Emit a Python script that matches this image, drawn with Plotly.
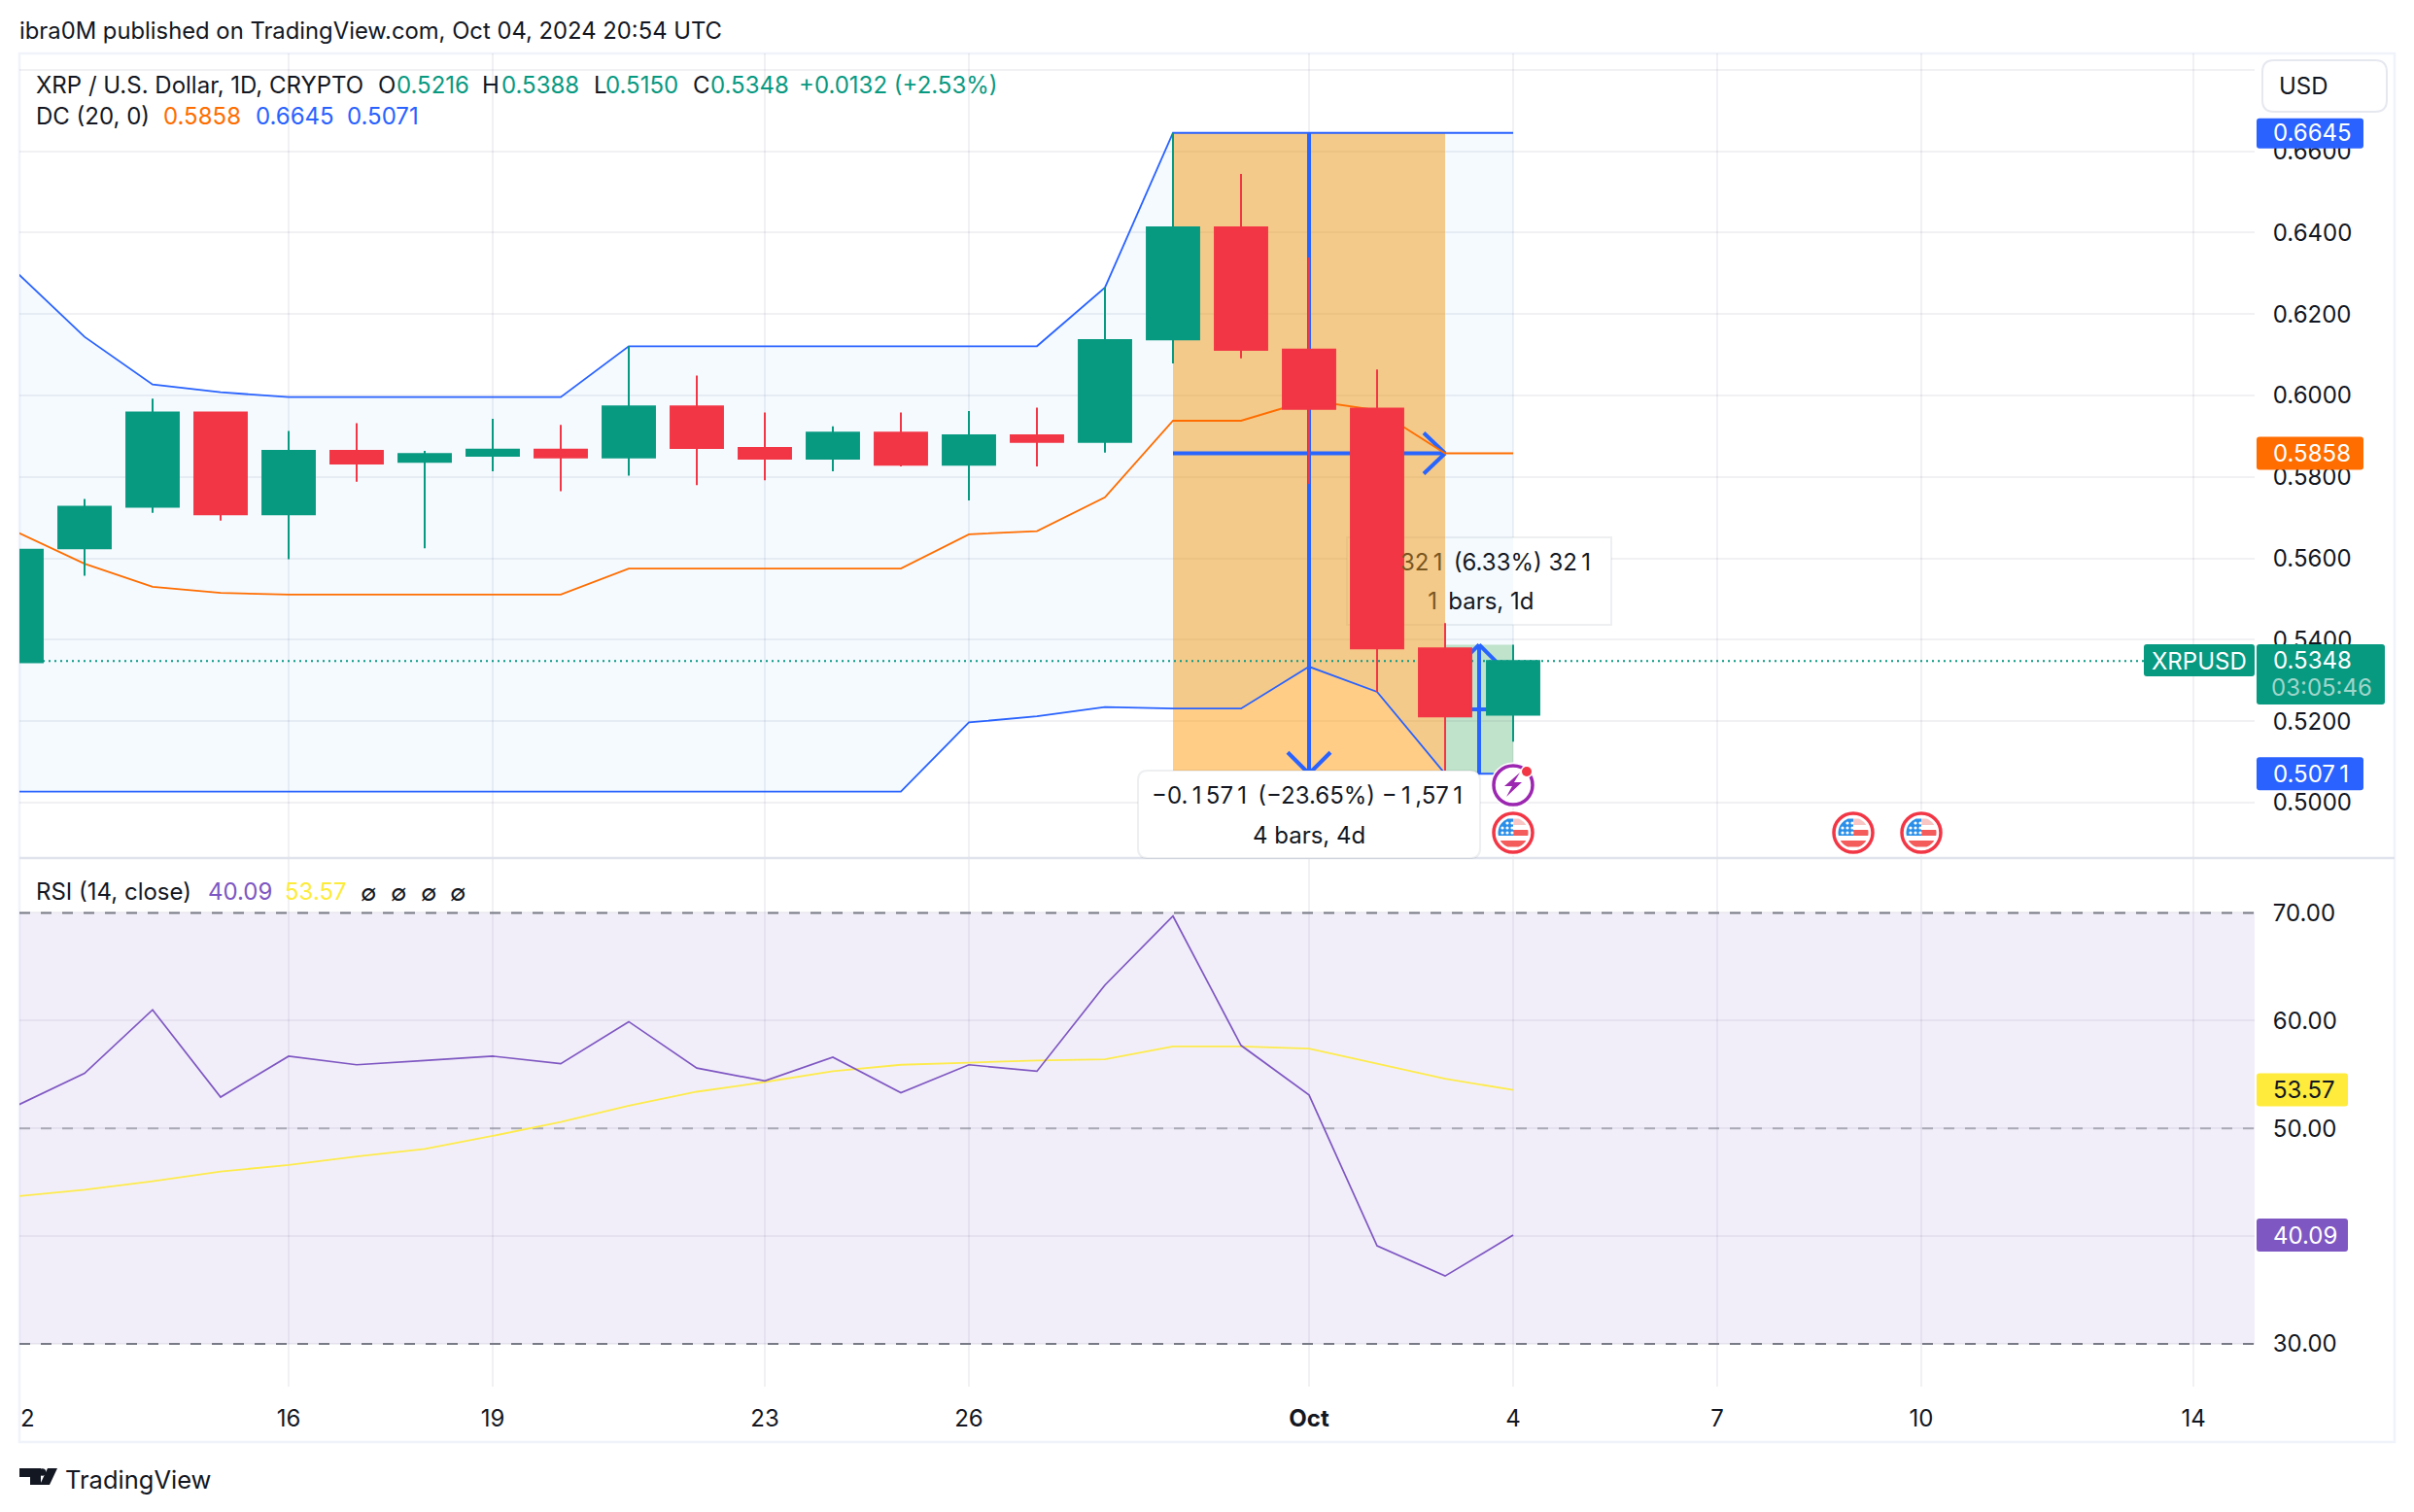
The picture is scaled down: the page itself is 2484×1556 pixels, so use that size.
import numpy as np
import pandas as pd
import plotly.graph_objects as go

# ---------- data ----------
dates = ["2024-09-12","2024-09-13","2024-09-14","2024-09-15","2024-09-16","2024-09-17","2024-09-18","2024-09-19",
         "2024-09-20","2024-09-21","2024-09-22","2024-09-23","2024-09-24","2024-09-25","2024-09-26","2024-09-27",
         "2024-09-28","2024-09-29","2024-09-30","2024-10-01","2024-10-02","2024-10-03","2024-10-04"]
opens  = [.5345,.5625,.5727,.5958,.5708,.5864,.5837,.5852,.5867,.5848,.5973,.5871,.5845,.5909,.5830,.5902,.5886,.6138,.6413,.6113,.5968,.5379,.5216]
highs  = [.5640,.5746,.5992,.5958,.5913,.5932,.5864,.5943,.5928,.6121,.6049,.5958,.5924,.5958,.5962,.5970,.6265,.6645,.6544,.6339,.6064,.5441,.5388]
lows   = [.5330,.5557,.5712,.5693,.5598,.5788,.5625,.5814,.5765,.5803,.5780,.5792,.5814,.5826,.5742,.5826,.5860,.6079,.6091,.5783,.5272,.5071,.5150]
closes = [.5621,.5727,.5958,.5708,.5864,.5833,.5856,.5867,.5848,.5973,.5871,.5845,.5909,.5830,.5902,.5886,.6136,.6413,.6112,.5967,.5379,.5212,.5348]
dc_upper = [.6303,.6144,.6027,.6008,.5996,.5996,.5996,.5996,.5996,.6121,.6121,.6121,.6121,.6121,.6121,.6121,.6265,.6645,.6645,.6645,.6645,.6645,.6645]
dc_lower = [.5027,.5027,.5027,.5027,.5027,.5027,.5027,.5027,.5027,.5027,.5027,.5027,.5027,.5027,.5197,.5212,.5235,.5231,.5231,.5334,.5272,.5071,.5071]
dc_basis = [.5665,.5587,.5530,.5515,.5511,.5511,.5511,.5511,.5511,.5575,.5575,.5575,.5575,.5575,.5659,.5667,.5750,.5938,.5938,.5988,.5964,.5858,.5858]
rsi    = [52.1,55.1,61.0,52.9,56.7,55.9,56.3,56.7,56.0,59.9,55.6,54.4,56.6,53.3,55.9,55.3,63.3,69.7,57.7,53.1,39.1,36.3,40.09]
rsi_ma = [43.7,44.3,45.1,46.0,46.6,47.4,48.1,49.3,50.6,52.1,53.4,54.3,55.3,55.9,56.1,56.3,56.4,57.6,57.6,57.4,56.0,54.6,53.57]
price_ticks = [.50,.52,.54,.56,.58,.60,.62,.64,.66,.68]
price_labels = ["0.5000","0.5200","0.5400","0.5600","0.5800","0.6000","0.6200","0.6400","0.6600",""]
rsi_ticks = [30,40,50,60,70]
rsi_labels = ["30.00","40.00","50.00","60.00","70.00"]
time_ticks = ["2024-09-16","2024-09-19","2024-09-23","2024-09-26","2024-10-01","2024-10-04","2024-10-07","2024-10-10","2024-10-14"]
time_labels = ["16","19","23","26","<b>Oct</b>","4","7","10","14"]
last_close, dc_up_last, dc_mid_last, dc_low_last = .5348, .6645, .5858, .5071
rsi_last, ma_last = 40.09, 53.57
measure_high, measure_low = .5388, .5071

# ---------- style ----------
W, H = 2484, 1556
INK = "#131722"; GREEN = "#089981"; RED = "#f23645"; BLUE = "#2962ff"; ORANGE = "#ff6d00"
PURPLE = "#7e57c2"; YELLOW = "#ffeb3b"; GRID = "rgba(42,46,87,0.065)"; FRAME = "#f0f3fa"
FONT = "Inter"; FS = 24
X = lambda p: p / W
Y = lambda p: 1 - p / H
L_PX, R_PX = 20, 2320
T_PX, SEP_PX, B_PX = 55, 883, 1427
OCT1, DAY = 1347, 70
def d(px):
    return (pd.Timestamp("2024-10-01") + pd.Timedelta(days=(px - OCT1) / DAY)).strftime("%Y-%m-%d %H:%M:%S")
xr = [d(L_PX), d(R_PX)]
pr = [.5 - (SEP_PX - 826) / 4190, .5 + (826 - T_PX) / 4190]
rr = [30 - (B_PX - 1383) / 11.09, 30 + (1383 - SEP_PX) / 11.09]

fig = go.Figure()
# Donchian
fig.add_trace(go.Scatter(x=dates, y=dc_upper, mode="lines", line=dict(color=BLUE, width=1.8), xaxis="x", yaxis="y", hoverinfo="skip"))
fig.add_trace(go.Scatter(x=dates, y=dc_lower, mode="lines", line=dict(color=BLUE, width=1.8), fill="tonexty",
                         fillcolor="rgba(33,150,243,0.05)", xaxis="x", yaxis="y", hoverinfo="skip"))
fig.add_trace(go.Scatter(x=dates, y=dc_basis, mode="lines", line=dict(color=ORANGE, width=1.8), xaxis="x", yaxis="y", hoverinfo="skip"))
# RSI
fig.add_trace(go.Scatter(x=dates, y=rsi_ma, mode="lines", line=dict(color="#fdeb4c", width=1.8), xaxis="x2", yaxis="y2", hoverinfo="skip"))
fig.add_trace(go.Scatter(x=dates, y=rsi, mode="lines", line=dict(color=PURPLE, width=1.7), xaxis="x2", yaxis="y2", hoverinfo="skip"))
# Candles on an overlay so they sit above the lines
fig.add_trace(go.Candlestick(x=dates, open=opens, high=highs, low=lows, close=closes, xaxis="x3", yaxis="y3",
                             whiskerwidth=0,
                             increasing=dict(line=dict(color=GREEN, width=2), fillcolor=GREEN),
                             decreasing=dict(line=dict(color=RED, width=2), fillcolor=RED)))

shapes = []
def S(**k):
    shapes.append(k)

# ----- between-layer: white label, tinted zones, arrows, price line -----
def rrect(x0, y0, x1, y1, r=8):
    return (f"M{X(x0+r)},{Y(y0)} L{X(x1-r)},{Y(y0)} Q{X(x1)},{Y(y0)} {X(x1)},{Y(y0+r)} L{X(x1)},{Y(y1-r)} "
            f"Q{X(x1)},{Y(y1)} {X(x1-r)},{Y(y1)} L{X(x0+r)},{Y(y1)} Q{X(x0)},{Y(y1)} {X(x0)},{Y(y1-r)} "
            f"L{X(x0)},{Y(y0+r)} Q{X(x0)},{Y(y0)} {X(x0+r)},{Y(y0)} Z")

S(type="rect", xref="x", yref="y", x0=d(1386), x1=d(1658), y0=.5 + (826 - 643) / 4190, y1=.5 + (826 - 553) / 4190,
  fillcolor="white", line=dict(color="rgba(20,30,60,0.07)", width=2), layer="between")
S(type="rect", xref="x", yref="y", x0="2024-09-29", x1="2024-10-03", y0=dc_low_last, y1=dc_up_last,
  fillcolor="rgba(255,150,0,0.48)", line=dict(width=0), layer="between")
S(type="rect", xref="x", yref="y", x0="2024-10-03", x1="2024-10-04", y0=measure_low, y1=measure_high,
  fillcolor="rgba(76,175,80,0.3)", line=dict(width=0), layer="between")
S(type="line", xref="x", yref="y", x0=xr[0], x1=d(2206), y0=last_close, y1=last_close,
  line=dict(color=GREEN, width=2, dash="2px,4px"), layer="between")

arrow = dict(color=BLUE, width=4)
def segment(x0, x1, y0, y1):
    S(type="line", xref="x", yref="y", x0=x0, x1=x1, y0=y0, y1=y1, line=arrow, layer="between")
def chevron(xa, ya, dx0, dy0):
    S(type="line", xref="x", yref="y", xsizemode="pixel", ysizemode="pixel", xanchor=xa, yanchor=ya,
      x0=0, y0=0, x1=dx0, y1=dy0, line=arrow, layer="between")
segment("2024-10-01", "2024-10-01", dc_up_last, dc_low_last)
segment("2024-09-29", "2024-10-03", dc_mid_last, dc_mid_last)
chevron("2024-10-03", dc_mid_last, -22, 21); chevron("2024-10-03", dc_mid_last, -22, -21)
chevron("2024-10-01", dc_low_last, -22, 22); chevron("2024-10-01", dc_low_last, 22, 22)
segment("2024-10-03 12:00", "2024-10-03 12:00", measure_low, measure_high)
segment("2024-10-03", "2024-10-04", .5229, .5229)
chevron("2024-10-03 12:00", measure_high, -19, -19); chevron("2024-10-03 12:00", measure_high, 19, -19)

# RSI band + levels
S(type="rect", xref="x2", yref="y2", x0=xr[0], x1=xr[1], y0=30, y1=70, fillcolor="rgba(126,87,194,0.1)", line=dict(width=0), layer="between")
for lv, col in ((70, "#787b86"), (30, "#787b86"), (50, "rgba(120,123,134,0.55)")):
    S(type="line", xref="x2", yref="y2", x0=xr[0], x1=xr[1], y0=lv, y1=lv, line=dict(color=col, width=2, dash="11px,11px"), layer="between")

# ----- frame -----
S(type="rect", xref="paper", yref="paper", x0=X(20), x1=X(2464), y0=Y(1484), y1=Y(55), line=dict(color=FRAME, width=2.5), fillcolor="rgba(0,0,0,0)", layer="below")
S(type="line", xref="paper", yref="paper", x0=X(20), x1=X(2464), y0=Y(SEP_PX), y1=Y(SEP_PX), line=dict(color="#e0e3eb", width=2.5), layer="above")

# ----- lower measure label (above everything) -----
S(type="path", xref="paper", yref="paper", path=rrect(1171, 793, 1523, 883, 10), fillcolor="white",
  line=dict(color="rgba(20,30,60,0.07)", width=2), layer="above")

# ----- right-hand price tags -----
def tag(x0, x1, y0, y1, color):
    S(type="path", xref="paper", yref="paper", path=rrect(x0, y0, x1, y1, 3), fillcolor=color, line=dict(width=0), layer="above")
def py(v): return 826 - (v - .5) * 4190
def ry(v): return 1383 - (v - 30) * 11.09
tag(2322, 2432, py(dc_up_last) - 15, py(dc_up_last) + 16, BLUE)
tag(2322, 2432, py(dc_mid_last) - 17, py(dc_mid_last) + 17, ORANGE)
tag(2322, 2432, py(dc_low_last) - 17, py(dc_low_last) + 17, BLUE)
tag(2322, 2454, 663, 725, "#089981")
tag(2206, 2320, 663, 696, "#089981")
tag(2322, 2416, ry(ma_last) - 17, ry(ma_last) + 17, YELLOW)
tag(2322, 2416, ry(rsi_last) - 17, ry(rsi_last) + 17, PURPLE)
S(type="path", xref="paper", yref="paper", path=rrect(2328, 62, 2456, 115, 12), fillcolor="white", line=dict(color="#e6e8f0", width=2), layer="above")

# ----- icons -----
def circle(cx, cy, r, fill, line=None, lw=0):
    S(type="circle", xref="paper", yref="paper", x0=X(cx - r), x1=X(cx + r), y0=Y(cy + r), y1=Y(cy - r),
      fillcolor=fill, line=dict(color=line or "rgba(0,0,0,0)", width=lw), layer="above")
def poly(pts, fill):
    p = "M" + " L".join(f"{X(a)},{Y(b)}" for a, b in pts) + " Z"
    S(type="path", xref="paper", yref="paper", path=p, fillcolor=fill, line=dict(width=0), layer="above")
def chord_region(cx, cy, r, y0, y1, x0=-99, x1=99, fill="#f45b5b"):
    pts = []
    for yy in np.linspace(y0, y1, 9):
        pts.append((cx + min(x1, (r*r - yy*yy)**.5), cy + yy))
    for yy in np.linspace(y1, y0, 9):
        pts.append((cx + max(x0, -(r*r - yy*yy)**.5), cy + yy))
    poly(pts, fill)
def flag(cx, cy):
    circle(cx, cy, 23.5, "white")
    circle(cx, cy, 20, "white", RED, 3.5)
    r = 15.5
    chord_region(cx, cy, r, -14.5, -8, 0, 99, "#f9c6c6")
    chord_region(cx, cy, r, -3, 3, 0, 99, "#f45b5b")
    chord_region(cx, cy, r, 8, 14.5, fill="#f45b5b")
    chord_region(cx, cy, r, -14.5, 3, -99, 0, "#2b8fe8")
    for row, n in ((-10, (-6, -1)), (-5, (-11, -6, -1)), (0, (-11, -6, -1))):
        for xo in n:
            circle(cx + xo, cy + row, 1.6, "white")
def bolt(cx, cy):
    circle(cx, cy, 23.5, "white")
    circle(cx, cy, 20, "white", "#9c27b0", 3.5)
    poly([(cx + 7, cy - 13), (cx - 9, cy + 1), (cx - 1, cy + 1), (cx - 7, cy + 12), (cx + 9, cy - 3), (cx + 1, cy - 3)], "#9c27b0")
    circle(cx + 14, cy - 14, 6.5, "white")
    circle(cx + 14, cy - 14, 5, RED)
bolt(1557, 808)
flag(1557, 857); flag(1907, 857); flag(1977, 857)

# TradingView logo
poly([(20, 1511), (42, 1511), (42, 1528), (31, 1528), (31, 1520), (20, 1520)], INK)
circle(43.5, 1515, 3.8, INK)
poly([(49, 1511), (59, 1511), (51, 1528), (41, 1528)], INK)

# ----- text -----
ann = []
HS = "\u200a"
def tn(s):
    # widen the narrow "1" to the tabular width used by the source font
    return s.replace("1", HS * 2 + "1" + HS * 2)
def T(px, pyy, text, size=FS, color=INK, anchor="left"):
    ann.append(dict(x=X(px), y=Y(pyy), xref="paper", yref="paper", text=text, showarrow=False, xanchor=anchor, yanchor="middle",
                    align=anchor, borderpad=0, font=dict(family=FONT, size=size, color=color)))
T(19, 31, "ibra0M published on TradingView.com, Oct 04, 2024 20:54 UTC", 23.8)
T(36, 87, "XRP / U.S. Dollar, 1D, CRYPTO")
for xl, lbl, xv, val in ((388, "O", 407, "0.5216"), (495, "H", 515, "0.5388"), (610, "L", 622, "0.5150"), (712, "C", 730, "0.5348")):
    T(xl, 87, lbl); T(xv, 87, val, FS, GREEN)
T(821, 87, "+0.0132 (+2.53%)", FS, GREEN)
T(36, 120, "DC (20, 0)")
T(167, 120, "0.5858", FS, ORANGE); T(262, 120, "0.6645", FS, BLUE); T(356, 120, "0.5071", FS, BLUE)
T(36, 917, "RSI (14, close)")
T(213, 917, "40.09", FS, PURPLE); T(292, 917, "53.57", FS, "#fdeb3b")
for xx in (370, 401, 432, 462):
    T(xx, 918, "∅", 24)
T(20, 1459, "2")
T(66, 1522, "TradingView", 25.5)

BR = '#7a561f'
T(1541, 579, f'<span style="color:{BR}">{tn("321")}</span> (6.33%) {tn("321")}', FS, anchor="center")
T(1522, 619, f'<span style="color:{BR}">{tn("1")}</span> bars, 1d', FS, anchor="center")
T(1347, 818, tn("−0.1571 (−23.65%) −1,571"), FS, anchor="center")
T(1347, 859, "4 bars, 4d", FS, anchor="center")

T(2338, py(dc_up_last), f"{dc_up_last:.4f}", FS, "white")
T(2338, py(dc_mid_last), f"{dc_mid_last:.4f}", FS, "white")
T(2338, py(dc_low_last), tn(f"{dc_low_last:.4f}"), FS, "white")
T(2338, 679, f"{last_close:.4f}", FS, "white")
T(2336, 708, "03:05:46", FS, "#9fd6ca")
T(2263, 680, "XRPUSD", FS, "white", anchor="center")
T(2338, ry(ma_last), f"{ma_last:.2f}", FS, INK)
T(2338, ry(rsi_last), f"{rsi_last:.2f}", FS, "white")
T(2344, 88, "USD", FS)

tick_font = dict(family=FONT, size=FS, color=INK)
fig.update_layout(
    width=W, height=H, margin=dict(l=0, r=0, t=0, b=0), paper_bgcolor="white", plot_bgcolor="rgba(0,0,0,0)",
    showlegend=False, boxgap=0.23, boxgroupgap=0, shapes=shapes, annotations=ann, hovermode=False,
    xaxis=dict(domain=[X(L_PX), X(R_PX)], range=xr, type="date", anchor="y", tickvals=time_ticks, ticktext=time_labels,
               showticklabels=False, ticks="", showgrid=True, gridcolor=GRID, gridwidth=2, zeroline=False, showline=False, rangeslider=dict(visible=False)),
    yaxis=dict(domain=[Y(SEP_PX), Y(T_PX)], range=pr, anchor="x", side="right", tickvals=price_ticks, ticktext=price_labels,
               ticks="outside", ticklen=13, tickcolor="rgba(0,0,0,0)", tickfont=tick_font, showgrid=True, gridcolor=GRID, gridwidth=2, zeroline=False, showline=False),
    xaxis2=dict(domain=[X(L_PX), X(R_PX)], range=xr, type="date", anchor="y2", tickvals=time_ticks, ticktext=time_labels,
                ticks="outside", ticklen=11, tickcolor="rgba(0,0,0,0)", tickfont=tick_font, showgrid=True, gridcolor=GRID, gridwidth=2, zeroline=False, showline=False),
    yaxis2=dict(domain=[Y(B_PX), Y(SEP_PX)], range=rr, anchor="x2", side="right", tickvals=rsi_ticks, ticktext=rsi_labels,
                ticks="outside", ticklen=13, tickcolor="rgba(0,0,0,0)", tickfont=tick_font, showgrid=True, gridcolor=GRID, gridwidth=2, zeroline=False, showline=False),
    xaxis3=dict(domain=[X(L_PX), X(R_PX)], range=xr, type="date", overlaying="x", anchor="y3", visible=False, rangeslider=dict(visible=False)),
    yaxis3=dict(domain=[Y(SEP_PX), Y(T_PX)], range=pr, overlaying="y", anchor="x3", visible=False),
)
fig.write_html("out.html", config=dict(displayModeBar=False),
               post_script="document.body.style.margin='0';document.body.style.overflow='hidden';")
